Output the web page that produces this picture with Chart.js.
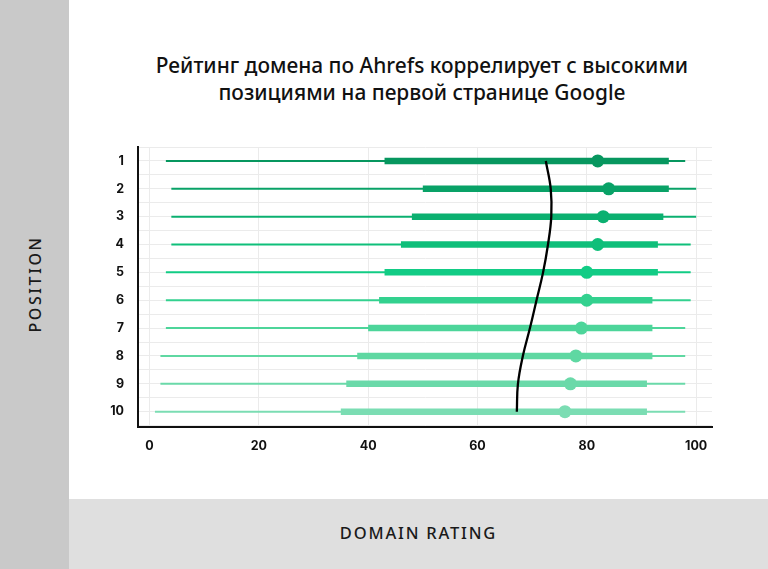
<!DOCTYPE html>
<html>
<head>
<meta charset="utf-8">
<script src="https://cdn.jsdelivr.net/npm/chart.js@4.4.1/dist/chart.umd.min.js"></script>
<style>
  html, body { margin: 0; padding: 0; background: #ffffff; }
  #wrap { position: relative; width: 768px; height: 569px; overflow: hidden; background: #fff; }
  #leftBand { position: absolute; left: 0; top: 0; width: 69px; height: 569px; background: #c9c9c9; }
  #bottomBand { position: absolute; left: 69px; top: 499px; width: 699px; height: 70px; background: #dfdfdf; }
  #title { position: absolute; left: 69px; width: 706px; top: 52px; text-align: center;
           font-family: "Noto Sans", sans-serif; font-weight: 500; font-size: 20.9px; line-height: 27px; color: #111; }
  #yTitle { position: absolute; left: 35px; top: 284px; transform: translate(-50%, -50%) rotate(-90deg);
            font-family: "Noto Sans", sans-serif; font-weight: 500; font-size: 16px; letter-spacing: 2.6px; color: #1a1a1a; white-space: nowrap; }
  #xTitle { position: absolute; left: 69px; width: 699px; top: 521px; text-align: center;
            font-family: "Noto Sans", sans-serif; font-weight: 500; font-size: 16.5px; letter-spacing: 1.8px; color: #1a1a1a; }
  canvas { position: absolute; left: 0; top: 0; }
</style>
</head>
<body>
<div id="wrap">
  <div id="leftBand"></div>
  <div id="bottomBand"></div>
  <div id="title">Рейтинг домена по Ahrefs коррелирует с высокими<br>позициями на первой странице Google</div>
  <div id="yTitle">POSITION</div>
  <div id="xTitle">DOMAIN RATING</div>
  <canvas id="c" width="768" height="569"></canvas>
</div>
<script>
const positions   = [1, 2, 3, 4, 5, 6, 7, 8, 9, 10];
const whiskerLow  = [3, 4, 4, 4, 3, 3, 3, 2, 2, 1];
const whiskerHigh = [98, 100, 100, 99, 99, 99, 98, 98, 98, 98];
const boxLow      = [43, 50, 48, 46, 43, 42, 40, 38, 36, 35];
const boxHigh     = [95, 95, 94, 93, 93, 92, 92, 92, 91, 91];
const medians     = [82, 84, 83, 82, 80, 80, 79, 78, 77, 76];
const trendLine   = [72.5, 73.4, 73.5, 72.9, 72.0, 70.8, 69.6, 68.3, 67.4, 67.2];
const xTickValues = [0, 20, 40, 60, 80, 100];
const yTickValues = [0.5, 1, 1.5, 2, 2.5, 3, 3.5, 4, 4.5, 5, 5.5, 6, 6.5, 7, 7.5, 8, 8.5, 9, 9.5, 10, 10.5];
const rowColors   = ['#07975f', '#09a267', '#0bb070', '#0fbf7a', '#12cc85',
                     '#33d18f', '#4dd59a', '#5fd8a2', '#6ad9a9', '#7bddb3'];

const datasets = [];
positions.forEach((p, i) => {
  datasets.push({
    type: 'line',
    data: [{x: whiskerLow[i], y: p}, {x: whiskerHigh[i], y: p}],
    borderColor: rowColors[i], borderWidth: 2, pointRadius: 0, borderCapStyle: 'butt', order: 4
  });
  datasets.push({
    type: 'line',
    data: [{x: boxLow[i], y: p}, {x: boxHigh[i], y: p}],
    borderColor: rowColors[i], borderWidth: 6.5, pointRadius: 0, borderCapStyle: 'butt', order: 3
  });
});
datasets.push({
  type: 'line',
  data: positions.map((p, i) => ({x: trendLine[i], y: p})),
  borderColor: '#000', borderWidth: 2.3, pointRadius: 0, tension: 0.4, fill: false, order: 2
});
datasets.push({
  type: 'scatter',
  data: positions.map((p, i) => ({x: medians[i], y: p})),
  pointRadius: 6.5, pointBackgroundColor: rowColors, pointBorderWidth: 0, order: 1
});

const tickFont = { family: 'Inter, "Noto Sans", sans-serif', size: 12.5, weight: '700' };

new Chart(document.getElementById('c'), {
  type: 'scatter',
  data: { datasets },
  options: {
    responsive: false,
    animation: false,
    layout: { padding: { left: 0, right: 56, top: 147, bottom: 102 } },
    plugins: { legend: { display: false }, tooltip: { enabled: false } },
    scales: {
      x: {
        type: 'linear', min: -2.1, max: 102.9,
        afterBuildTicks: s => { s.ticks = xTickValues.map(v => ({ value: v })); },
        afterFit: s => { s.height = 40; },
        grid: { color: '#ebebeb', lineWidth: 1, drawTicks: false },
        border: { color: '#111', width: 2 },
        ticks: { font: tickFont, color: '#111', padding: 12, maxRotation: 0, autoSkip: false }
      },
      y: {
        type: 'linear', reverse: true, min: 0.5, max: 10.55,
        afterBuildTicks: s => { s.ticks = yTickValues.map(v => ({ value: v })); },
        afterFit: s => { s.width = 138; },
        grid: { color: '#ebebeb', lineWidth: 1, drawTicks: false },
        border: { color: '#111', width: 2 },
        ticks: {
          font: tickFont, color: '#111', padding: 14, autoSkip: false,
          callback: v => Number.isInteger(v) ? String(v) : ''
        }
      }
    }
  }
});
</script>
</body>
</html>
